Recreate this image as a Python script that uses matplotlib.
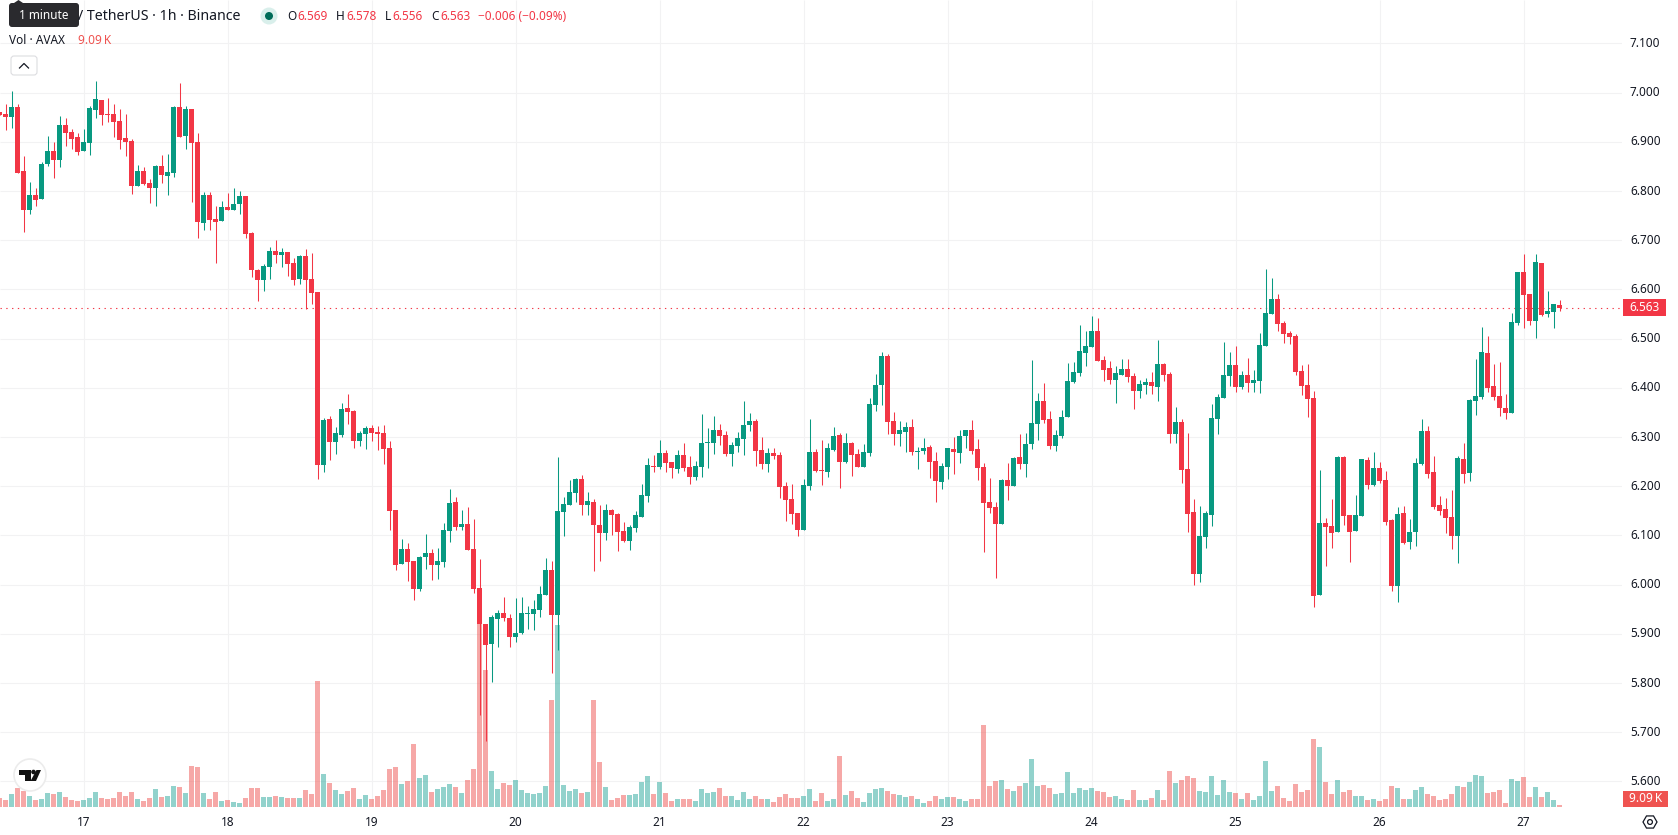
import numpy as np
import matplotlib
matplotlib.use("Agg")
import matplotlib.pyplot as plt
from matplotlib.patches import Circle, FancyBboxPatch, Polygon, Rectangle, RegularPolygon

plt.rcParams['font.family'] = ['Noto Sans', 'DejaVu Sans']

# AVAX / TetherUS hourly candles, 16th 10:00 to 27th 06:00
opens = [
    6.961, 6.956, 6.950, 6.971, 6.841, 6.761, 6.792, 6.784, 6.855, 6.881, 6.863, 6.934, 6.920, 6.910,
    6.881, 6.898, 6.965, 6.985, 6.956, 6.956, 6.942, 6.908, 6.902, 6.810, 6.841, 6.816, 6.806, 6.851, 6.830, 6.837, 6.971, 6.912, 6.967, 6.900, 6.735, 6.792, 6.743, 6.739,
    6.767, 6.761, 6.774, 6.790, 6.715, 6.639, 6.619, 6.646, 6.678, 6.670, 6.676, 6.654, 6.621, 6.668, 6.621, 6.595, 6.243, 6.337, 6.290, 6.304, 6.359, 6.353, 6.292, 6.306,
    6.318, 6.310, 6.308, 6.278, 6.152, 6.042, 6.072, 6.048, 5.991, 6.056, 6.064, 6.040, 6.046, 6.109, 6.168, 6.117, 6.123, 6.072, 5.993, 5.920, 5.879, 5.930, 5.942, 5.932,
    5.893, 5.902, 5.940, 5.940, 5.948, 5.979, 6.030, 5.938, 6.148, 6.162, 6.186, 6.215, 6.162, 6.168, 6.121, 6.105, 6.152, 6.143, 6.109, 6.089, 6.115, 6.137, 6.180, 6.241,
    6.239, 6.267, 6.249, 6.235, 6.263, 6.239, 6.219, 6.239, 6.288, 6.288, 6.314, 6.304, 6.265, 6.282, 6.296, 6.324, 6.332, 6.274, 6.245, 6.267, 6.263, 6.200, 6.174, 6.145,
    6.111, 6.200, 6.269, 6.233, 6.229, 6.274, 6.304, 6.249, 6.288, 6.265, 6.239, 6.267, 6.365, 6.406, 6.465, 6.332, 6.306, 6.310, 6.320, 6.269, 6.271, 6.280, 6.251, 6.209,
    6.239, 6.276, 6.267, 6.302, 6.314, 6.276, 6.239, 6.168, 6.158, 6.123, 6.213, 6.200, 6.259, 6.245, 6.286, 6.326, 6.373, 6.337, 6.282, 6.302, 6.341, 6.412, 6.430, 6.471,
    6.483, 6.515, 6.456, 6.440, 6.416, 6.426, 6.438, 6.424, 6.393, 6.406, 6.412, 6.402, 6.448, 6.428, 6.306, 6.330, 6.235, 6.148, 6.022, 6.097, 6.141, 6.337, 6.379, 6.424,
    6.446, 6.402, 6.426, 6.410, 6.414, 6.485, 6.550, 6.580, 6.532, 6.511, 6.505, 6.434, 6.406, 6.379, 5.979, 6.125, 6.119, 6.107, 6.259, 6.141, 6.109, 6.139, 6.253, 6.202,
    6.237, 6.213, 6.131, 5.997, 6.145, 6.087, 6.107, 6.245, 6.312, 6.229, 6.162, 6.154, 6.137, 6.099, 6.255, 6.227, 6.373, 6.381, 6.471, 6.404, 6.383, 6.359, 6.349, 6.532,
    6.635, 6.591, 6.536, 6.654, 6.550, 6.554, 6.569,
]
highs = [
    6.961, 6.977, 7.003, 6.977, 6.871, 6.818, 6.806, 6.859, 6.912, 6.900, 6.952, 6.948, 6.926, 6.918,
    6.926, 6.973, 7.024, 6.985, 6.989, 6.977, 6.967, 6.956, 6.906, 6.853, 6.849, 6.824, 6.853, 6.873, 6.875, 6.973, 7.019, 6.973, 6.967, 6.918, 6.798, 6.798, 6.770, 6.780,
    6.796, 6.806, 6.800, 6.790, 6.717, 6.641, 6.652, 6.686, 6.700, 6.684, 6.676, 6.664, 6.670, 6.682, 6.674, 6.595, 6.339, 6.343, 6.320, 6.369, 6.387, 6.355, 6.312, 6.322,
    6.324, 6.322, 6.324, 6.292, 6.152, 6.093, 6.085, 6.048, 6.058, 6.103, 6.072, 6.074, 6.125, 6.194, 6.178, 6.152, 6.158, 6.133, 6.052, 5.920, 5.938, 5.948, 5.975, 5.940,
    5.973, 5.975, 5.957, 5.969, 5.997, 6.054, 6.048, 6.259, 6.178, 6.213, 6.217, 6.223, 6.188, 6.174, 6.162, 6.164, 6.154, 6.145, 6.127, 6.121, 6.150, 6.205, 6.257, 6.263,
    6.294, 6.274, 6.249, 6.274, 6.288, 6.261, 6.251, 6.347, 6.318, 6.343, 6.326, 6.312, 6.290, 6.310, 6.373, 6.349, 6.337, 6.300, 6.278, 6.278, 6.269, 6.209, 6.205, 6.145,
    6.215, 6.337, 6.276, 6.294, 6.288, 6.320, 6.308, 6.308, 6.290, 6.276, 6.286, 6.379, 6.428, 6.473, 6.469, 6.351, 6.332, 6.330, 6.337, 6.280, 6.298, 6.284, 6.269, 6.247,
    6.278, 6.300, 6.314, 6.314, 6.335, 6.296, 6.247, 6.217, 6.168, 6.215, 6.247, 6.259, 6.306, 6.308, 6.456, 6.389, 6.410, 6.353, 6.314, 6.355, 6.450, 6.452, 6.528, 6.515,
    6.546, 6.542, 6.465, 6.454, 6.444, 6.458, 6.458, 6.430, 6.416, 6.420, 6.432, 6.497, 6.450, 6.432, 6.361, 6.337, 6.308, 6.174, 6.160, 6.150, 6.367, 6.387, 6.493, 6.473,
    6.485, 6.434, 6.460, 6.436, 6.511, 6.641, 6.623, 6.591, 6.536, 6.515, 6.509, 6.446, 6.448, 6.393, 6.233, 6.135, 6.174, 6.261, 6.261, 6.141, 6.182, 6.255, 6.259, 6.269,
    6.249, 6.231, 6.133, 6.158, 6.160, 6.133, 6.257, 6.337, 6.322, 6.261, 6.180, 6.176, 6.192, 6.261, 6.288, 6.377, 6.458, 6.524, 6.505, 6.448, 6.452, 6.387, 6.552, 6.635,
    6.672, 6.591, 6.672, 6.654, 6.597, 6.570, 6.578,
]
lows = [
    6.955, 6.924, 6.928, 6.837, 6.717, 6.753, 6.770, 6.784, 6.851, 6.826, 6.849, 6.891, 6.885, 6.873,
    6.881, 6.873, 6.948, 6.934, 6.940, 6.910, 6.885, 6.871, 6.794, 6.810, 6.812, 6.776, 6.770, 6.816, 6.792, 6.828, 6.910, 6.885, 6.778, 6.704, 6.721, 6.721, 6.654, 6.739,
    6.761, 6.761, 6.753, 6.704, 6.625, 6.576, 6.597, 6.621, 6.654, 6.646, 6.627, 6.609, 6.611, 6.560, 6.570, 6.215, 6.229, 6.253, 6.265, 6.300, 6.326, 6.278, 6.282, 6.276,
    6.292, 6.274, 6.245, 6.111, 6.030, 6.042, 6.007, 5.969, 5.987, 6.032, 6.009, 6.011, 6.036, 6.087, 6.111, 6.111, 6.070, 5.983, 5.735, 5.682, 5.802, 5.873, 5.926, 5.873,
    5.883, 5.900, 5.910, 5.908, 5.934, 5.979, 5.820, 5.867, 6.099, 6.162, 6.168, 6.141, 6.141, 6.028, 6.048, 6.091, 6.101, 6.068, 6.087, 6.070, 6.107, 6.137, 6.168, 6.229,
    6.235, 6.229, 6.217, 6.227, 6.231, 6.205, 6.213, 6.219, 6.237, 6.265, 6.284, 6.261, 6.241, 6.269, 6.263, 6.312, 6.241, 6.235, 6.229, 6.255, 6.176, 6.129, 6.123, 6.099,
    6.111, 6.192, 6.229, 6.202, 6.219, 6.271, 6.196, 6.247, 6.221, 6.239, 6.239, 6.261, 6.353, 6.365, 6.306, 6.284, 6.282, 6.269, 6.263, 6.235, 6.265, 6.217, 6.168, 6.194,
    6.215, 6.225, 6.247, 6.278, 6.265, 6.213, 6.066, 6.145, 6.013, 6.123, 6.172, 6.200, 6.235, 6.219, 6.276, 6.294, 6.328, 6.276, 6.271, 6.298, 6.341, 6.410, 6.424, 6.444,
    6.483, 6.454, 6.414, 6.408, 6.369, 6.426, 6.412, 6.357, 6.379, 6.387, 6.387, 6.373, 6.414, 6.288, 6.288, 6.207, 6.107, 5.999, 6.005, 6.074, 6.119, 6.306, 6.379, 6.404,
    6.391, 6.398, 6.391, 6.391, 6.389, 6.485, 6.550, 6.515, 6.491, 6.489, 6.426, 6.385, 6.341, 5.954, 5.979, 6.038, 6.074, 6.107, 6.121, 6.046, 6.109, 6.139, 6.194, 6.200,
    6.207, 6.121, 5.987, 5.965, 6.083, 6.072, 6.079, 6.243, 6.217, 6.154, 6.141, 6.105, 6.072, 6.044, 6.207, 6.211, 6.345, 6.377, 6.391, 6.375, 6.343, 6.337, 6.349, 6.528,
    6.522, 6.528, 6.501, 6.546, 6.544, 6.522, 6.556,
]
closes = [
    6.955, 6.950, 6.971, 6.837, 6.761, 6.792, 6.782, 6.855, 6.881, 6.863, 6.934, 6.918, 6.906, 6.879,
    6.900, 6.969, 6.987, 6.955, 6.955, 6.940, 6.904, 6.900, 6.810, 6.841, 6.814, 6.806, 6.851, 6.833, 6.839, 6.971, 6.910, 6.967, 6.898, 6.737, 6.792, 6.741, 6.737, 6.767,
    6.761, 6.774, 6.790, 6.713, 6.639, 6.619, 6.648, 6.678, 6.670, 6.676, 6.652, 6.619, 6.668, 6.619, 6.593, 6.243, 6.335, 6.290, 6.308, 6.357, 6.351, 6.292, 6.308, 6.318,
    6.308, 6.306, 6.276, 6.150, 6.040, 6.072, 6.046, 5.991, 6.056, 6.064, 6.040, 6.048, 6.111, 6.166, 6.117, 6.123, 6.070, 5.991, 5.920, 5.877, 5.934, 5.942, 5.932, 5.893,
    5.902, 5.942, 5.942, 5.950, 5.981, 6.030, 5.938, 6.150, 6.164, 6.188, 6.215, 6.162, 6.170, 6.121, 6.105, 6.152, 6.141, 6.107, 6.089, 6.117, 6.141, 6.182, 6.243, 6.239,
    6.267, 6.247, 6.237, 6.263, 6.237, 6.219, 6.241, 6.288, 6.290, 6.314, 6.302, 6.265, 6.284, 6.298, 6.324, 6.332, 6.271, 6.245, 6.267, 6.261, 6.198, 6.172, 6.143, 6.111,
    6.202, 6.269, 6.231, 6.231, 6.278, 6.302, 6.249, 6.288, 6.263, 6.239, 6.269, 6.367, 6.406, 6.465, 6.330, 6.306, 6.314, 6.320, 6.269, 6.271, 6.278, 6.249, 6.211, 6.241,
    6.278, 6.269, 6.302, 6.314, 6.271, 6.237, 6.166, 6.156, 6.123, 6.213, 6.200, 6.257, 6.245, 6.286, 6.328, 6.373, 6.335, 6.282, 6.304, 6.341, 6.414, 6.432, 6.475, 6.485,
    6.515, 6.454, 6.436, 6.416, 6.430, 6.438, 6.422, 6.393, 6.408, 6.412, 6.404, 6.448, 6.426, 6.306, 6.330, 6.233, 6.143, 6.022, 6.099, 6.145, 6.339, 6.381, 6.426, 6.446,
    6.402, 6.426, 6.410, 6.416, 6.487, 6.552, 6.580, 6.530, 6.509, 6.503, 6.432, 6.404, 6.377, 5.977, 6.125, 6.117, 6.105, 6.259, 6.139, 6.107, 6.141, 6.255, 6.202, 6.237,
    6.211, 6.127, 5.997, 6.143, 6.085, 6.107, 6.247, 6.312, 6.225, 6.158, 6.150, 6.135, 6.099, 6.257, 6.225, 6.375, 6.383, 6.473, 6.400, 6.381, 6.359, 6.349, 6.534, 6.635,
    6.589, 6.536, 6.656, 6.548, 6.556, 6.570, 6.563,
]
# Volume in thousands of AVAX
volumes = [
    40.5, 31.5, 58.5, 85.5, 72, 49.5, 31.5, 36, 63, 58.5, 67.5, 45, 31.5, 27,
    31.5, 40.5, 67.5, 40.5, 36, 40.5, 67.5, 49.5, 67.5, 36, 27, 40.5, 81, 45, 49.5, 94.5, 90, 63, 184.5, 180, 63, 36, 67.5, 27,
    31.5, 22.5, 18, 40.5, 85.5, 85.5, 45, 45, 49.5, 45, 40.5, 40.5, 40.5, 76.5, 58.5, 567, 148.5, 108, 76.5, 58.5, 72, 85.5, 36, 54,
    36, 49.5, 76.5, 171, 180, 103.5, 117, 283.5, 130.5, 144, 67.5, 81, 90, 103.5, 90, 63, 121.5, 171, 823.5, 616.5, 162, 81, 108, 99,
    121.5, 76.5, 63, 58.5, 63, 94.5, 481.5, 819, 99, 72, 81, 63, 67.5, 481.5, 202.5, 90, 31.5, 40.5, 54, 54, 58.5, 112.5, 139.5, 58.5,
    112.5, 63, 27, 36, 36, 36, 27, 81, 63, 67.5, 85.5, 49.5, 49.5, 31.5, 67.5, 36, 49.5, 36, 36, 22.5, 45, 58.5, 40.5, 40.5,
    49.5, 81, 27, 63, 27, 36, 229.5, 54, 72, 40.5, 22.5, 63, 81, 85.5, 72, 58.5, 54, 45, 49.5, 36, 18, 27, 49.5, 36,
    45, 45, 36, 27, 36, 36, 369, 94.5, 117, 121.5, 81, 72, 94.5, 108, 216, 94.5, 99, 85.5, 58.5, 63, 157.5, 63, 85.5, 76.5,
    85.5, 72, 67.5, 45, 49.5, 36, 31.5, 76.5, 31.5, 31.5, 40.5, 76.5, 31.5, 162, 108, 121.5, 139.5, 130.5, 72, 67.5, 139.5, 54, 121.5, 67.5,
    63, 36, 63, 31.5, 49.5, 207, 72, 94.5, 40.5, 27, 103.5, 67.5, 76.5, 306, 270, 112.5, 58.5, 121.5, 67.5, 76.5, 49.5, 49.5, 31.5, 36,
    27, 36, 94.5, 85.5, 36, 36, 76.5, 90, 58.5, 49.5, 31.5, 36, 58.5, 94.5, 90, 112.5, 144, 139.5, 63, 67.5, 76.5, 18, 126, 117,
    135, 45, 90, 45, 67.5, 31.5, 9.09,
]
first_hour = -14  # hours before midnight of the 17th
day_labels = ["17", "18", "19", "20", "21", "22", "23", "24", "25", "26", "27"]
price_ticks = [5.6, 5.7, 5.8, 5.9, 6.0, 6.1, 6.2, 6.3, 6.4, 6.5, 6.6, 6.7, 6.8, 6.9, 7.0, 7.1]
bold_prices = [6.0, 6.5, 7.0]
last_price = 6.563

UP = '#089981'
DOWN = '#F23645'
VOL_UP = '#26a69a'
VOL_DOWN = '#ef5350'
GRID = '#f2f2f3'
TEXT = '#131722'

W, H = 1678, 835
PANE_W, PANE_H = 1622, 807

fig = plt.figure(figsize=(W / 100, H / 100), dpi=100, facecolor='white')
rect = [0, (H - PANE_H) / H, PANE_W / W, PANE_H / H]

# grid at the bottom, volume over it, candles on top
ax_grid = fig.add_axes(rect, zorder=0)
ax_vol = fig.add_axes(rect, zorder=1, sharex=ax_grid)
ax = fig.add_axes(rect, zorder=2, sharex=ax_grid, sharey=ax_grid)
ax_vol.patch.set_visible(False)
ax.patch.set_visible(False)
for a in (ax_grid, ax_vol, ax):
    a.set_axis_off()

hours = np.arange(first_hour, first_hour + len(opens))
o, h, l, c = map(np.array, (opens, highs, lows, closes))
vol = np.array(volumes)
up = c >= o

px = 1 / 6  # one candle every 6 pixels
ax_grid.set_xlim(-83.5 * px, (PANE_W - 83.5) * px)
ax_grid.set_ylim(7 - (PANE_H - 92.6) / 492, 7 + 92.6 / 492)
ax_vol.set_ylim(0, PANE_H * 4.5)

day_hours = [24 * i for i in range(len(day_labels))]
ax_grid.hlines(price_ticks, *ax_grid.get_xlim(), color=GRID, lw=0.8)
ax_grid.vlines(day_hours, *ax_grid.get_ylim(), color=GRID, lw=0.8)

ax_vol.bar(hours, vol, width=5 * px, color=np.where(up, VOL_UP, VOL_DOWN), alpha=0.5, linewidth=0)

ax.plot(ax_grid.get_xlim(), [last_price, last_price], color=DOWN, lw=0.8, ls=(0, (1.2, 4)), zorder=1)
colors = np.where(up, UP, DOWN)
ax.vlines(hours, l, h, colors=colors, lw=0.75, zorder=2)
ax.bar(hours, np.maximum(np.abs(c - o), 0.001), bottom=np.minimum(o, c), width=5 * px,
       color=colors, linewidth=0, zorder=3)

# Price scale, time scale and legend are laid out in pixels
ui = fig.add_axes([0, 0, 1, 1], zorder=5)
ui.set_xlim(0, W)
ui.set_ylim(H, 0)
ui.set_axis_off()
ui.patch.set_visible(False)


def y_of(price):
    return 92.6 + (7 - price) * 492


for price in price_ticks:
    ui.text(1630, y_of(price), f"{price:.3f}", ha='left', va='center', color=TEXT, fontsize=8.5,
            fontweight='bold' if price in bold_prices else 'normal')
for d, label in zip(day_hours, day_labels):
    ui.text(83.5 + d * 6, 822, label, ha='center', va='center', color=TEXT, fontsize=8.5,
            fontweight='bold' if label == "22" else 'normal')

# last price and last volume tags
ui.add_patch(Rectangle((1623, 299), 43, 17, color=DOWN, lw=0))
ui.text(1644.5, 307.5, "6.563", ha='center', va='center', color='white', fontsize=8.5)
ui.add_patch(Rectangle((1623, 791), 45, 16, color=VOL_DOWN, lw=0))
ui.text(1645.5, 799, "9.09\u2009K", ha='center', va='center', color='white', fontsize=8.5)

# settings icon
ui.add_patch(RegularPolygon((1650, 822), 6, radius=7, orientation=np.pi / 2, fc='none', ec=TEXT, lw=0.9))
ui.add_patch(Circle((1650, 822), 2.4, fc='none', ec=TEXT, lw=0.9))

# legend rows
ui.text(78, 16, "/ TetherUS \u00b7 1h \u00b7 Binance", ha='left', va='center', color=TEXT, fontsize=10.2)
ui.add_patch(Circle((269, 16), 8.5, fc='#d9efeb', ec='none'))
ui.add_patch(Circle((269, 16), 4, fc='#006b58', ec='none'))
for x, letter, x_val, value in [(287, "O", 297, "6.569"), (336, "H", 346, "6.578"),
                                (385, "L", 392, "6.556"), (431, "C", 440, "6.563")]:
    ui.text(x, 16, letter, ha='left', va='center', color=TEXT, fontsize=8.5)
    ui.text(x_val, 16, value, ha='left', va='center', color=DOWN, fontsize=8.5)
ui.text(478, 16, "\u22120.006 (\u22120.09%)", ha='left', va='center', color=DOWN, fontsize=8.5)
ui.text(9, 40.5, "Vol \u00b7 AVAX", ha='left', va='center', color=TEXT, fontsize=8.5)
ui.text(78, 40.5, "9.09\u2009K", ha='left', va='center', color=VOL_DOWN, fontsize=8.5)

# collapse button
ui.add_patch(FancyBboxPatch((11, 56), 26, 19, boxstyle="round,pad=0,rounding_size=3", fc='white', ec='#dcdde0', lw=0.8))
ui.plot([19.5, 24, 28.5], [68, 63.5, 68], color=TEXT, lw=0.9)

# tooltip over the symbol name
ui.add_patch(FancyBboxPatch((9, 3), 70, 24, boxstyle="round,pad=0,rounding_size=3", fc='#2a2a2e', ec='none'))
ui.add_patch(Polygon([(14, 3), (18.5, 0), (23, 3)], fc='#2a2a2e', ec='none'))
ui.text(43.5, 15.5, "1 minute", ha='center', va='center', color='white', fontsize=8.5)

# logo badge
ui.add_patch(Circle((30, 775), 16, fc='white', ec='#ececec', lw=1.2))
ui.add_patch(Polygon([(19, 770), (30.5, 770), (30.5, 781), (25, 781), (25, 775), (19, 775)], fc='#111111', ec='none'))
ui.add_patch(Circle((33.5, 772), 2.3, fc='#111111', ec='none'))
ui.add_patch(Polygon([(36.5, 770), (41, 770), (36, 781), (30.5, 781)], fc='#111111', ec='none'))

fig.savefig("out.png", dpi=100)
